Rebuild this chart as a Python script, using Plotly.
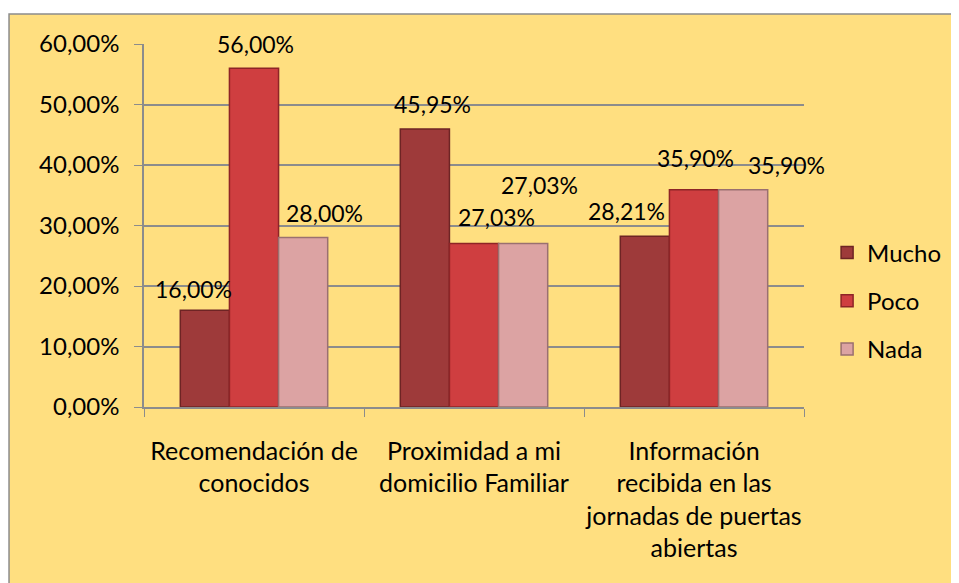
import plotly.graph_objects as go

# -----------------------------------------------------
# DATA
# -----------------------------------------------------

categories = [
    "Recomendación de<br>conocidos",
    "Proximidad a mi<br>domicilio Familiar",
    "Información<br>recibida en las<br>jornadas de puertas<br>abiertas",
]
series_names = ["Mucho", "Poco", "Nada"]
mucho = [0.16, 0.4595, 0.2821]
poco = [0.56, 0.2703, 0.3590]
nada = [0.28, 0.2703, 0.3590]
y_ticks = [0, 0.1, 0.2, 0.3, 0.4, 0.5, 0.6]

# -----------------------------------------------------
# STYLE
# -----------------------------------------------------

FONT = "Lato"
colors = ["#9E3A3A", "#CF3E40", "#DCA3A3"]
edges = ["#6E2424", "#8E2426", "#9A7070"]

PLOT_W = 660
BARGAP = 0.33
bar_w = PLOT_W / len(categories) * (1 - BARGAP) / len(series_names)

# label nudges (px) per series / category, like the original placement
label_nudge = [
    [(-11, 21), (8, 25), (-18, 25)],
    [(1, 24), (22, 26), (1, 32)],
    [(21, 25), (16, 58), (43, 25)],
]

fig = go.Figure()

for name, vals, col, edge in zip(series_names, [mucho, poco, nada], colors, edges):
    fig.add_trace(go.Bar(
        name=name,
        x=categories,
        y=vals,
        marker=dict(color=col, line=dict(color=edge, width=1.5)),
        legendgroup=name,
    ))

annotations = []
for s, vals in enumerate([mucho, poco, nada]):
    for c, v in enumerate(vals):
        dx, dy = label_nudge[s][c]
        annotations.append(dict(
            x=categories[c], y=v, xref="x", yref="y",
            text=f"{v*100:.2f}%".replace(".", ","),
            showarrow=False,
            xshift=(s - 1) * bar_w + dx, yshift=dy,
            xanchor="center", yanchor="middle",
            font=dict(family=FONT, size=23, color="#000000"),
        ))

fig.update_layout(
    width=951,
    height=575,
    barmode="group",
    bargap=BARGAP,
    bargroupgap=0,
    separators=", ",
    paper_bgcolor="#FFFFFF",
    plot_bgcolor="#FFC000",
    margin=dict(l=136, r=155, t=36, b=176, autoexpand=False),
    font=dict(family=FONT, size=24, color="#000000"),
    showlegend=True,
    legend=dict(
        x=1.035, y=0.292, xanchor="left", yanchor="middle",
        bgcolor="rgba(0,0,0,0)",
        font=dict(family=FONT, size=24),
        tracegroupgap=14,
    ),
    xaxis=dict(
        range=[-0.5, len(categories) - 0.5],
        showline=True, linecolor="#8C8C8C", linewidth=1.5,
        ticks="outside", tickson="boundaries", ticklen=8, tickcolor="#8C8C8C",
        tickfont=dict(family=FONT, size=25),
        tickangle=0,
        automargin=False,
        ticklabelstandoff=21,
        showgrid=False,
    ),
    yaxis=dict(
        range=[0, 0.6],
        tickvals=y_ticks,
        tickformat=".2%",
        showline=True, linecolor="#8C8C8C", linewidth=1.5,
        ticks="outside", ticklen=8, tickcolor="#8C8C8C",
        gridcolor="#8C8C8C", gridwidth=1.5,
        tickfont=dict(family=FONT, size=24),
        ticklabelstandoff=10,
        automargin=False,
        zeroline=False,
    ),
    annotations=annotations,
    shapes=[dict(
        type="rect", xref="paper", yref="paper", layer="below",
        x0=-0.2045, x1=1.2288, y0=-0.52, y1=1.0826,
        fillcolor="#FFDF80", line=dict(color="#8C8C8C", width=1.5),
    )],
)

fig.write_html("out.html")
